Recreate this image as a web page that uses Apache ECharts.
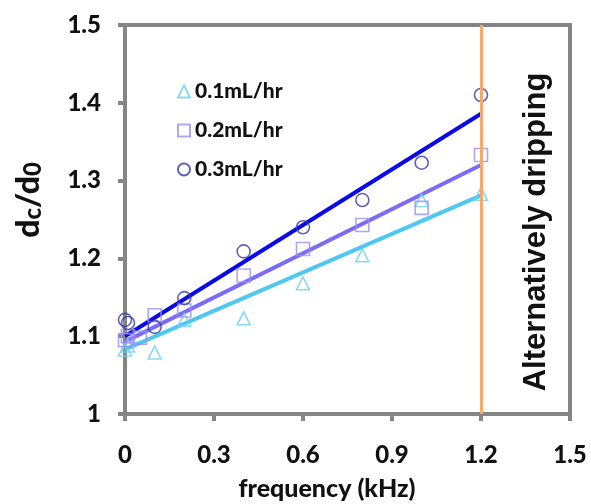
<!DOCTYPE html>
<html><head><meta charset="utf-8">
<script src="https://cdn.jsdelivr.net/npm/echarts@6/dist/echarts.min.js"></script>
<style>html,body{margin:0;padding:0;background:#fff}#c{width:591px;height:504px}</style>
</head><body><div id="c"></div>
<script>
// data
const xTicks = [0, 0.3, 0.6, 0.9, 1.2, 1.5];
const yTicks = [1, 1.1, 1.2, 1.3, 1.4, 1.5];
const seriesNames = ['0.1mL/hr', '0.2mL/hr', '0.3mL/hr'];
const freq01 = [0, 0.01, 0.1, 0.2, 0.4, 0.6, 0.8, 1.0, 1.2];
const val01  = [1.083, 1.088, 1.079, 1.121, 1.123, 1.168, 1.204, 1.275, 1.283];
const freq02 = [0, 0.01, 0.05, 0.1, 0.2, 0.4, 0.6, 0.8, 1.0, 1.2];
const val02  = [1.095, 1.100, 1.098, 1.127, 1.133, 1.178, 1.212, 1.243, 1.265, 1.333];
const freq03 = [0, 0.01, 0.1, 0.2, 0.4, 0.6, 0.8, 1.0, 1.2];
const val03  = [1.121, 1.117, 1.112, 1.149, 1.209, 1.240, 1.275, 1.323, 1.410];
const fitX   = [0, 1.2];
const fit01  = [1.083, 1.281];
const fit02  = [1.093, 1.320];
const fit03  = [1.100, 1.386];
const dripFreq = 1.2;
const dripLabel = 'Alternatively dripping';
const xTitle = 'frequency (kHz)';

const pairs = (xs, ys) => xs.map((x, i) => [x, ys[i]]);
const font = 'Lato, "Open Sans", sans-serif';
const W = 900;
const axisGray = '#858585';
const colors = {
  m1: '#6fd0f2', l1: '#4fc8f0',
  m2: '#9a90f2', l2: '#7b6cf6',
  m3: '#3a3aa8', l3: '#0a0ae8'
};

const chart = echarts.init(document.getElementById('c'));
chart.setOption({
  animation: false,
  backgroundColor: '#fff',
  grid: { left: 125, right: 21, top: 25, bottom: 90, show: true, borderColor: axisGray, borderWidth: 4,
          containLabel: false, outerBoundsMode: 'none' },
  legend: {
    data: seriesNames, orient: 'vertical', left: 172, top: 76, itemGap: 18,
    itemWidth: 12, itemHeight: 12,
    textStyle: { fontFamily: font, fontWeight: W, fontSize: 21, color: '#111' }
  },
  xAxis: {
    type: 'value', min: 0, max: 1.5, interval: 0.3,
    axisLine: { lineStyle: { color: axisGray, width: 4 } },
    axisTick: { show: true, length: 7, lineStyle: { color: axisGray, width: 4 } },
    axisLabel: { margin: 29, fontFamily: font, fontWeight: W, fontSize: 24, color: '#111',
      formatter: v => { const t = xTicks.find(x => Math.abs(x - v) < 1e-9); return t === undefined ? '' : String(t); } },
    splitLine: { show: false }
  },
  yAxis: {
    type: 'value', min: 1, max: 1.5, interval: 0.1,
    axisLine: { lineStyle: { color: axisGray, width: 4 } },
    axisTick: { show: true, length: 7, lineStyle: { color: axisGray, width: 4 } },
    axisLabel: { margin: 24, fontFamily: font, fontWeight: W, fontSize: 24, color: '#111',
      formatter: v => { const t = yTicks.find(y => Math.abs(y - v) < 1e-9); return t === undefined ? '' : String(t); } },
    splitLine: { show: false }
  },
  series: [
    { name: 'fit1', type: 'line', data: pairs(fitX, fit01), symbol: 'none', lineStyle: { color: colors.l1, width: 4 }, z: 2 },
    { name: 'fit2', type: 'line', data: pairs(fitX, fit02), symbol: 'none', lineStyle: { color: colors.l2, width: 4 }, z: 2 },
    { name: 'fit3', type: 'line', data: pairs(fitX, fit03), symbol: 'none', lineStyle: { color: colors.l3, width: 4 }, z: 2 },
    { name: seriesNames[0], type: 'scatter', data: pairs(freq01, val01), symbol: 'triangle', symbolSize: 13,
      itemStyle: { color: 'rgba(255,255,255,0)', borderColor: colors.m1, borderWidth: 1.6 }, z: 3 },
    { name: seriesNames[1], type: 'scatter', data: pairs(freq02, val02), symbol: 'rect', symbolSize: 13,
      itemStyle: { color: 'rgba(255,255,255,0)', borderColor: colors.m2, borderWidth: 1.6 }, z: 3 },
    { name: seriesNames[2], type: 'scatter', data: pairs(freq03, val03), symbol: 'circle', symbolSize: 13,
      itemStyle: { color: 'rgba(255,255,255,0)', borderColor: colors.m3, borderWidth: 1.6 }, z: 3,
      markLine: { silent: true, symbol: 'none', label: { show: false },
        lineStyle: { color: '#f5a86a', width: 3, type: 'solid' },
        data: [{ xAxis: dripFreq }] } }
  ],
  graphic: [
    {
      type: 'text', x: 536, y: 232, rotation: Math.PI / 2,
      style: { text: dripLabel, font: 'bold 31px "Liberation Sans"', fill: '#111', align: 'center', verticalAlign: 'middle' }
    },
    {
      type: 'text', x: 327, y: 489,
      style: { text: xTitle, fontFamily: font, fontWeight: W, fontSize: 25, fill: '#111', align: 'center', verticalAlign: 'middle' }
    },
    {
      type: 'text', x: 29, y: 200, rotation: Math.PI / 2,
      style: {
        text: '{d|d}{s|c}{d|/d}{s|0}', align: 'center', verticalAlign: 'middle',
        rich: {
          d: { fontFamily: font, fontWeight: W, fontSize: 32, fill: '#111', lineHeight: 34 },
          s: { fontFamily: font, fontWeight: W, fontSize: 24, fill: '#111', padding: [8, 0, 0, 0], lineHeight: 34 }
        }
      }
    }
  ]
});
</script></body></html>
